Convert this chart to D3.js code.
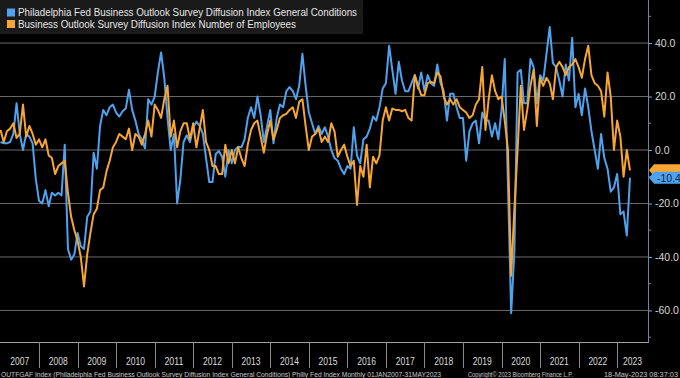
<!DOCTYPE html>
<html><head><meta charset="utf-8">
<script src="https://cdn.jsdelivr.net/npm/d3@7"></script>
<style>html,body{margin:0;padding:0;background:#000;}svg{display:block;}</style>
</head><body>
<svg id="c" width="680" height="378"></svg>
<script>
// Monthly, Jan 2007 .. May 2023
const startYear = 2007;
const years = ["2007","2008","2009","2010","2011","2012","2013","2014","2015","2016","2017","2018","2019","2020","2021","2022","2023"];
const generalConditions = [
  3,2.5,2.5,3,6,17.5,6,0,6,5,2.5,-11,
  -19,-20,-15,-21,-16,-17,-16,-17,2,-37,-41,-39,
  -31,-36,-37,-25,-23,-1,-7,9,15,13,16,17,
  14,12.5,14.5,15.5,22.5,15,11,6,4,0.6,19,17,
  20,29,36.5,27,12,0,6,-20,-11,3,5.5,3,
  8.5,10.6,9,6,-3,-12,-12,-1.5,-0.4,-2.5,-10,0,
  -5,0,1.2,1,4,12,16,12,20,13,3,9,
  15,2.5,12,17,16,22,23.5,22,19,24,36,24,
  14,10,6,9,6,8.5,5,0,-3,-4,-7,-9,
  -6,-7,8.5,-2,-5,4,5,8,12.5,11,16,23,
  25,39,30,21,33,26,22,22,25,28,23,29,
  22,28,25,24,32,25,22,11,21,21,16,12,
  12,-4,7,10,11,2.5,14,11,11,5,10,4,
  15,34,-13,-61,-38,29,30,17.5,17.5,34,31,17.5,
  28,26,36,46,32.5,31,26,20,32,26,42,16,
  21,13,23,16,7,0,-7,6,-3,-7,-15.6,-14,
  -9,-24,-23,-32,-10.4
];
const employees = [
  7.5,3,7,8,10,4.5,6,17,5,9,6,2,
  4,1,4,-2,-3,-9,-6,-5,-4,-16,-25,-30,
  -34,-40,-51,-39,-31,-24,-22,-15,-14,-8,-4,1,
  3,6,5,4,8,0,6,5,2,6,11,5,
  17,15,12,19,24,5,11,1,7,10,10,4,
  10,1,8,15,3,0,-6,-6,-9,-9,2,-5,
  0,-5,1,-3,-6,2,7.5,10,11,5,-1,6,
  11,4,7.5,12,13,13.5,15,16,12,18,19,9,
  0,5,6,8,3,5,3,10,7,-2.5,0,2,
  -2.5,-6,-4,-20.5,-6,-10,2,-14,-2.5,-5,-2,11,
  16,11,15.5,15,15,14.5,15,12,11,28,24,20.5,
  20.5,25,25.5,25,29,27.5,20,17,19,17,19,16,
  15,14,12,13,17,19,31,7.5,19,28,22,19,
  20,11,0,-47,-22,0,24,7.5,15,24,30,9,
  27,24,27,25,19,31,33,31,28,31,32,34,
  31,27,34,39,28,25,24,22,12.5,29,20,0,
  11,5,-10,0,-7.6
];
const majorTicks = [40,20,0,-20,-40,-60];
const minorTicks = [50,30,10,-10,-30,-50,-70];
const seriesNames = ["Philadelphia Fed Business Outlook Survey Diffusion Index General Conditions",
                     "Business Outlook Survey Diffusion Index Number of Employees"];
const colors = ["#4ea2ee","#f7a533"];
const footerLeft = "OUTFGAF Index (Philadelphia Fed Business Outlook Survey Diffusion Index General Conditions) Philly Fed Index  Monthly 01JAN2007-31MAY2023";
const footerMid = "Copyright\u00A9 2023 Bloomberg Finance L.P.";
const footerRight = "18-May-2023 08:37:03";

const svg = d3.select("#c");
const W = 680, plotR = 648, plotB = 342;
const n = generalConditions.length;
const x = d3.scaleLinear().domain([0, n-1]).range([0.5, 630]);
const y = d3.scaleLinear().domain([-71.8, 56.1]).range([plotB, 0]);
const font = "'Liberation Sans', Arial, sans-serif";

svg.append("rect").attr("width",W).attr("height",378).attr("fill","#000");

// grid
svg.append("g").selectAll("line").data(majorTicks).join("line")
  .attr("x1",0).attr("x2",plotR).attr("y1",d=>y(d)).attr("y2",d=>y(d))
  .attr("stroke","#6a6a6a").attr("stroke-width",1);

// lines
const line = d3.line().x((d,i)=>x(i)).y(d=>y(d));
[generalConditions, employees].forEach((s,k)=>{
  svg.append("path").datum(s).attr("d",line).attr("fill","none")
    .attr("stroke",colors[k]).attr("stroke-width",2).attr("stroke-linejoin","round");
});

// right axis
const ax = d3.axisRight(y).tickValues(majorTicks).tickSize(4).tickPadding(3).tickFormat(d=>d.toFixed(1));
const gA = svg.append("g").attr("transform",`translate(${plotR},0)`).call(ax);
gA.select(".domain").remove();
gA.selectAll(".tick line").attr("stroke","#8fa6c4");
gA.selectAll(".tick text").attr("fill","#d8d8d8").attr("font-family",font).attr("font-size",10.5);
svg.append("line").attr("x1",plotR+0.5).attr("x2",plotR+0.5).attr("y1",0).attr("y2",plotB)
  .attr("stroke","#6f86a6").attr("stroke-width",1);
svg.append("g").selectAll("line").data(minorTicks).join("line")
  .attr("x1",plotR).attr("x2",plotR+3).attr("y1",d=>y(d)).attr("y2",d=>y(d))
  .attr("stroke","#6f86a6");

// bottom axis line
svg.append("line").attr("x1",0).attr("x2",plotR+1).attr("y1",plotB+0.5).attr("y2",plotB+0.5)
  .attr("stroke","#a0a0a0");

// year separators & labels
const gx = svg.append("g");
years.forEach((yr,k)=>{
  const x0 = x(k*12), x1 = Math.min(x((k+1)*12), plotR);
  if(k>0) gx.append("line").attr("x1",Math.round(x0)+0.5).attr("x2",Math.round(x0)+0.5)
     .attr("y1",plotB).attr("y2",368).attr("stroke","#8a8a8a");
  gx.append("text").attr("x",(Math.max(x0,0)+x1)/2).attr("y",364.5).attr("text-anchor","middle")
    .attr("fill","#dcdcdc").attr("font-family",font).attr("font-size",11)
    .attr("textLength",19).attr("lengthAdjust","spacingAndGlyphs").text(yr);
});

// footer
const ft = (t,xx,len)=>svg.append("text").attr("x",xx).attr("y",376.5).attr("fill","#c8c8c8")
  .attr("font-family",font).attr("font-size",7).attr("textLength",len)
  .attr("lengthAdjust","spacingAndGlyphs").text(t);
ft(footerLeft,1,440); ft(footerMid,468,105); ft(footerRight,604,74);

// value tags
function tag(val, col, txtCol, showText){
  const yc = y(val);
  const g = svg.append("g");
  g.append("path").attr("d",`M${plotR+1},${yc} L${plotR+6},${yc-6} L${W},${yc-6} L${W},${yc+6} L${plotR+6},${yc+6} Z`)
    .attr("fill",col);
  if(showText) g.append("text").attr("x",plotR+9).attr("y",yc+4).attr("fill",txtCol)
    .attr("font-family",font).attr("font-size",10.5).text(val.toFixed(1));
}
tag(employees[n-1], colors[1], "#1a1000", false);
tag(generalConditions[n-1], colors[0], "#0a2240", true);

// legend
const lg = svg.append("g");
lg.append("rect").attr("x",0).attr("y",0).attr("width",363).attr("height",34).attr("fill","#1a1a1a");
seriesNames.forEach((nm,k)=>{
  const yy = 12.5 + k*11.5;
  lg.append("rect").attr("x",7).attr("y",yy-4).attr("width",8).attr("height",8).attr("fill",colors[k]);
  lg.append("text").attr("x",18).attr("y",yy+3.5).attr("fill","#e6e6e6").attr("font-family",font)
    .attr("font-size",10).attr("textLength",k===0?339:278).attr("lengthAdjust","spacingAndGlyphs").text(nm);
});
</script>
</body></html>
